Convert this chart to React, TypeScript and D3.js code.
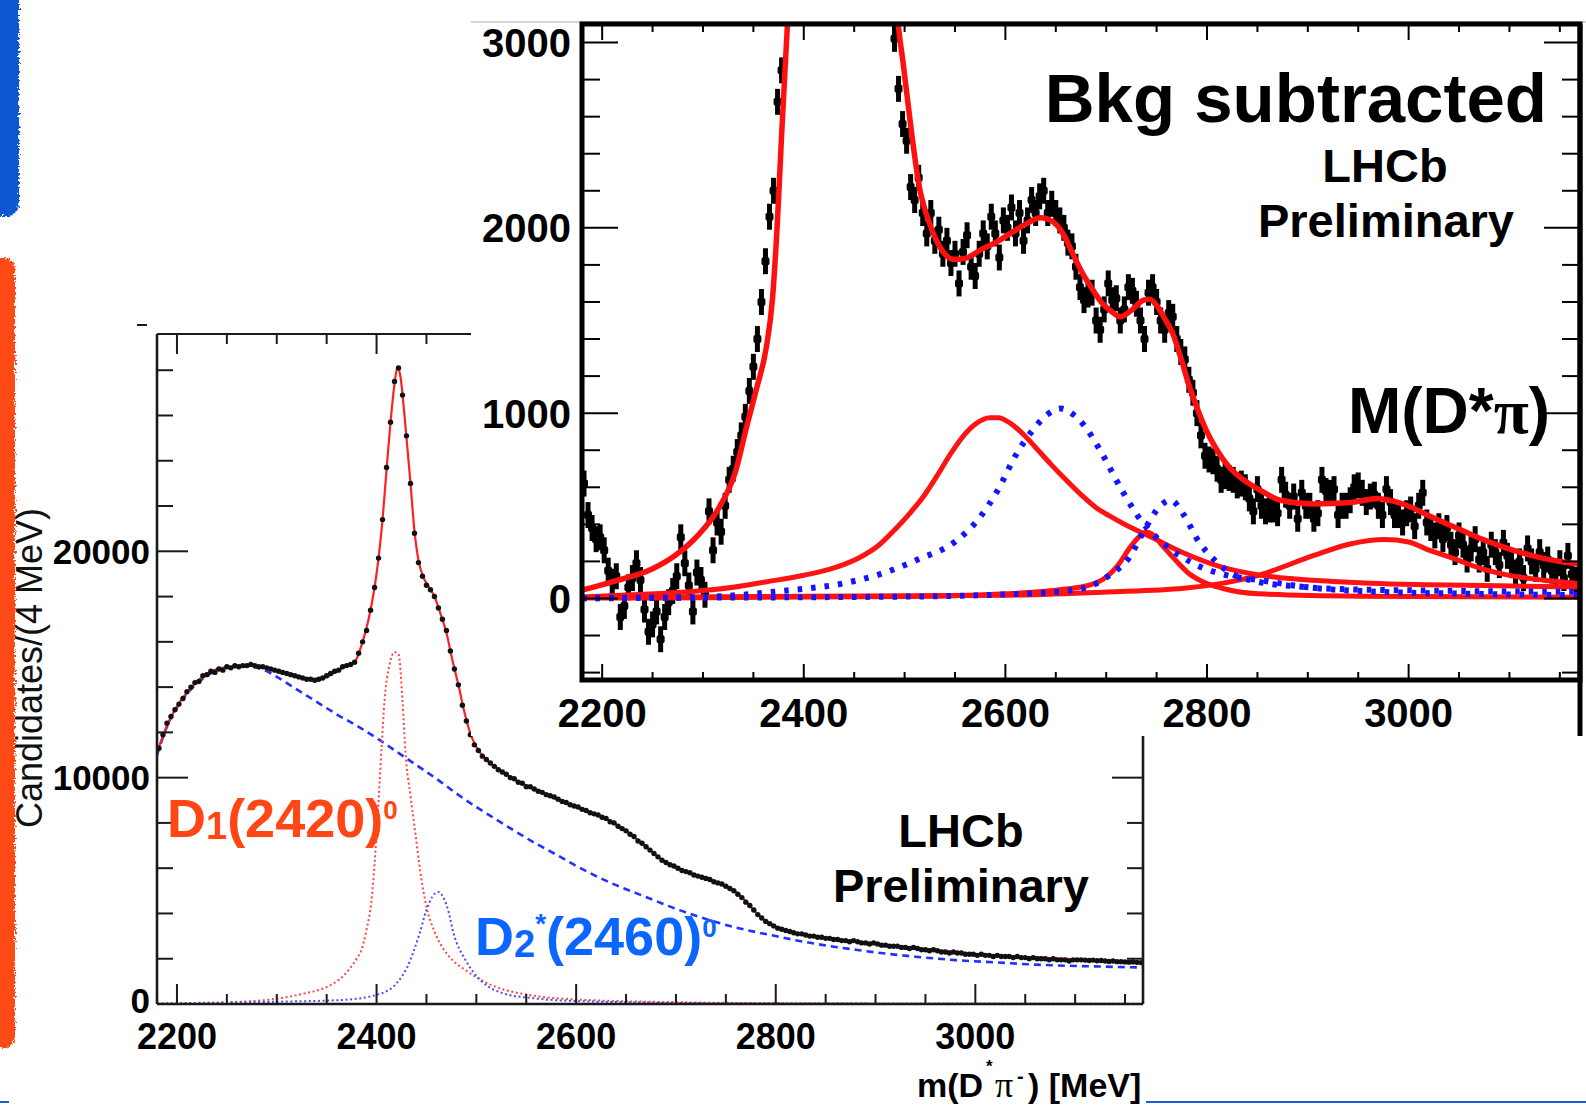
import React from "react";
import * as d3 from "d3";

type P = [number, number];

// ================= main (lower-left) plot: m(D*pi) candidates / 4 MeV =================
const mainBinStart = 2182;
const mainBinWidth = 4;
const mainCounts: number[] = [
  11300, 11900, 12400, 12700, 13000, 13250, 13500, 13800, 14000, 14200,
  14250, 14500, 14550, 14700, 14650, 14800, 14750, 14900, 14850, 14950,
  14900, 14950, 14950, 15000, 14950, 14900, 14900, 14850, 14800, 14750,
  14700, 14650, 14600, 14550, 14500, 14450, 14400, 14350, 14350, 14300,
  14350, 14400, 14500, 14600, 14700, 14750, 14900, 14950, 15000, 15100,
  15500, 16000, 16500, 17400, 18400, 19700, 21400, 23700, 25700, 27500,
  28100, 26900, 25100, 23000, 20800, 19500, 18900, 18500, 18300, 18000,
  17500, 17000, 16500, 15600, 14800, 14100, 13200, 12500, 11900, 11450,
  11200, 10950, 10800, 10650, 10500, 10350, 10250, 10150, 10000, 9950,
  9800, 9750, 9600, 9600, 9500, 9400, 9350, 9250, 9200, 9150,
  9050, 8950, 8900, 8800, 8750, 8700, 8600, 8550, 8450, 8400,
  8350, 8250, 8200, 8050, 8000, 7850, 7750, 7650, 7500, 7400,
  7200, 7100, 6950, 6800, 6650, 6500, 6350, 6250, 6150, 6100,
  6000, 5900, 5850, 5800, 5700, 5650, 5600, 5550, 5500, 5400,
  5350, 5300, 5200, 5100, 5000, 4850, 4700, 4500, 4350, 4150,
  3950, 3800, 3650, 3550, 3450, 3350, 3300, 3250, 3200, 3150,
  3100, 3100, 3050, 3000, 3000, 2950, 2950, 2900, 2900, 2850,
  2850, 2800, 2800, 2750, 2800, 2750, 2700, 2700, 2650, 2700,
  2650, 2600, 2600, 2550, 2550, 2550, 2500, 2500, 2450, 2500,
  2450, 2400, 2400, 2350, 2400, 2350, 2300, 2300, 2250, 2300,
  2250, 2250, 2200, 2200, 2200, 2150, 2200, 2150, 2150, 2100,
  2150, 2100, 2100, 2100, 2050, 2100, 2050, 2050, 2000, 2050,
  2000, 2000, 2000, 1950, 2000, 1950, 1950, 1950, 1900, 1950,
  1950, 1950, 1940, 1920, 1940, 1910, 1920, 1900, 1880, 1900,
  1870, 1870, 1860, 1850, 1860, 1840, 1830,
];

const mainFit: P[] = [
  [2180, 11100], [2190, 12300], [2200, 13150], [2210, 13750], [2220, 14250], [2230, 14600],
  [2240, 14800], [2250, 14880], [2260, 14920], [2270, 14950], [2280, 14930], [2290, 14850],
  [2300, 14720], [2310, 14600], [2320, 14480], [2330, 14380], [2340, 14340], [2350, 14450],
  [2360, 14700], [2370, 14950], [2378, 15100], [2386, 16000], [2392, 17000], [2398, 18400],
  [2402, 19700], [2406, 21400], [2410, 23600], [2414, 25700], [2418, 27400], [2421, 28150],
  [2424, 27700], [2428, 26000], [2434, 23000], [2438, 20900], [2442, 19600], [2447, 18850],
  [2452, 18450], [2458, 18000], [2464, 17250], [2470, 16400], [2476, 15200], [2482, 14100],
  [2488, 12900], [2494, 11950], [2500, 11350], [2510, 10800], [2520, 10450], [2530, 10150],
  [2550, 9650], [2570, 9250], [2590, 8870], [2610, 8530], [2630, 8180], [2650, 7650],
  [2670, 6950], [2690, 6250], [2710, 5850], [2730, 5550], [2750, 5200], [2760, 4950],
  [2770, 4550], [2780, 4050], [2790, 3650], [2800, 3400], [2820, 3150], [2840, 2970],
  [2860, 2870], [2880, 2770], [2900, 2670], [2920, 2570], [2940, 2480], [2960, 2380],
  [2980, 2290], [3000, 2210], [3020, 2150], [3040, 2100], [3060, 2060], [3080, 2020],
  [3100, 1970], [3120, 1930], [3140, 1880], [3168, 1830],
];

const mainBkg: P[] = [
  [2180, 11000], [2190, 12250], [2200, 13100], [2215, 13950], [2230, 14500], [2250, 14850],
  [2270, 14900], [2285, 14800], [2300, 14450], [2320, 13900], [2340, 13350], [2360, 12800],
  [2380, 12300], [2400, 11750], [2420, 11150], [2440, 10550], [2460, 9950], [2480, 9300],
  [2500, 8700], [2520, 8150], [2540, 7600], [2560, 7080], [2580, 6600], [2600, 6100],
  [2620, 5650], [2640, 5250], [2660, 4900], [2680, 4550], [2700, 4200], [2720, 3900],
  [2740, 3620], [2760, 3380], [2780, 3180], [2800, 3000], [2820, 2820], [2840, 2660],
  [2860, 2520], [2880, 2400], [2900, 2280], [2940, 2090], [2980, 1940], [3020, 1840],
  [3060, 1740], [3100, 1680], [3140, 1640], [3168, 1610],
];

const mainD1: P[] = [
  [2180, 30], [2250, 80], [2290, 180], [2328, 470], [2350, 750], [2366, 1210], [2380, 2000],
  [2385, 2400], [2390, 3300], [2395, 4600], [2401, 8200], [2405, 11300], [2408, 13400],
  [2413, 15000], [2418, 15550], [2422, 15450], [2426, 13400], [2429, 11100], [2434, 9200],
  [2439, 7500], [2444, 5800], [2450, 4300], [2458, 3200], [2466, 2500], [2477, 1900],
  [2489, 1500], [2505, 1050], [2519, 760], [2550, 420], [2600, 200], [2700, 80], [2800, 40],
  [3168, 10],
];

const mainD2: P[] = [
  [2180, 10], [2300, 100], [2366, 180], [2405, 470], [2420, 910], [2431, 1650], [2443, 3100],
  [2450, 4150], [2456, 4750], [2462, 4950], [2467, 4700], [2472, 4100], [2477, 3150],
  [2489, 1950], [2504, 1060], [2527, 470], [2558, 250], [2600, 130], [2700, 50], [2800, 25],
  [3168, 5],
];

const mainXTicks = [2200, 2400, 2600, 2800, 3000];
const mainYTicks = [0, 10000, 20000];

// ================= inset: background subtracted =================
const insetBinStart = 2182;
const insetBinWidth = 4;
const insetErr = 70;
const insetCounts: (number | null)[] = [
  620, 450, 380, 320, 330, 260, 150, 90, 120, -100,
  -40, 60, 110, 190, 100, -60, -180, -140, -70, -220,
  -100, -20, 40, 120, 330, 190, 70, -70, 140, 100,
  20, 470, 260, 410, 360, 500, 640, 700, 790, 880,
  980, 1120, 1250, 1400, 1600, 1820, 2060, 2200, 2680, 2850,
  null, null, null, null, null, null, null, null, null, null,
  null, null, null, null, null, null, null, null, null, null,
  null, null, null, null, null, null, null, 3020, 2750, 2560,
  2470, 2220, 2150, 2270, 2080, 1970, 2080, 1930, 1990, 1860,
  1930, 1810, 1860, 1700, 1870, 1960, 1790, 1740, 1860, 1970,
  1900, 2060, 1970, 1840, 2040, 2000, 2110, 1970, 2080, 1930,
  2040, 2150, 2080, 2170, 2200, 2080, 2130, 2080, 2040, 2000,
  1920, 1900, 1790, 1680, 1610, 1640, 1650, 1500, 1450, 1560,
  1700, 1610, 1620, 1500, 1560, 1680, 1660, 1590, 1500, 1400,
  1650, 1680, 1600, 1500, 1450, 1540, 1520, 1400, 1330, 1290,
  1180, 1110, 1000, 880, 770, 750, 740, 700, 640, 660,
  650, 640, 610, 620, 600, 540, 470, 590, 500, 470,
  480, 480, 460, 640, 560, 500, 550, 430, 570, 500,
  500, 430, 460, 640, 580, 570, 590, 450, 500, 500,
  530, 600, 610, 570, 520, 550, 560, 500, 450, 590,
  520, 450, 450, 410, 460, 480, 390, 500, 570, 410,
  380, 340, 390, 320, 380, 290, 250, 340, 290, 210,
  270, 320, 210, 250, 160, 290, 250, 180, 300, 230,
  180, 140, 200, 110, 270, 200, 160, 250, 180, 210,
  150, 140, 190, 110, 230, 130, 100,
];

const insetTotal: P[] = [
  [2180, 45], [2210, 90], [2250, 160], [2272, 230], [2295, 340], [2317, 500], [2332, 680],
  [2343, 920], [2353, 1130], [2363, 1360], [2369, 1620], [2374, 2050], [2378, 2500],
  [2384, 3120], [2390, 3800], [2486, 3800], [2492, 3200], [2499, 2870], [2507, 2510],
  [2514, 2240], [2526, 2005], [2537, 1880], [2548, 1830], [2560, 1835], [2575, 1880],
  [2590, 1920], [2605, 1970], [2620, 2020], [2635, 2055], [2648, 2030], [2658, 1960],
  [2666, 1870], [2676, 1760], [2685, 1680], [2695, 1600], [2705, 1550], [2714, 1520],
  [2725, 1555], [2737, 1610], [2743, 1615], [2751, 1575], [2758, 1510], [2766, 1430],
  [2774, 1300], [2781, 1170], [2790, 1030], [2799, 910], [2810, 800], [2821, 715],
  [2835, 645], [2851, 590], [2873, 530], [2906, 510], [2943, 518], [2969, 540], [2985, 525],
  [2999, 500], [3017, 455], [3035, 410], [3054, 365], [3072, 322], [3090, 285], [3109, 252],
  [3135, 215], [3165, 188], [3170, 185],
];

const insetBroadRed: P[] = [
  [2180, 8], [2230, 20], [2287, 36], [2330, 60], [2362, 89], [2400, 125], [2430, 165],
  [2455, 220], [2475, 290], [2490, 370], [2506, 465], [2520, 560], [2532, 660], [2545, 775],
  [2558, 875], [2570, 940], [2585, 975], [2593, 975], [2605, 945], [2618, 885], [2630, 815],
  [2645, 725], [2660, 640], [2675, 560], [2690, 490], [2705, 440], [2720, 395], [2745, 330],
  [2777, 245], [2814, 170], [2850, 128], [2888, 105], [2925, 92], [2962, 82], [3020, 74],
  [3090, 68], [3170, 62],
];

const insetBroadBlue: P[] = [
  [2180, 0], [2300, 8], [2381, 42], [2438, 80], [2475, 130], [2513, 210], [2551, 310],
  [2575, 440], [2592, 580], [2611, 780], [2626, 900], [2641, 990], [2655, 1025], [2668, 990],
  [2680, 920], [2695, 790], [2716, 580], [2736, 410], [2756, 300], [2786, 190], [2820, 125],
  [2851, 100], [2900, 60], [2962, 38], [3050, 26], [3170, 18],
];

const insetNarrowRed: P[] = [
  [2180, 2], [2500, 10], [2600, 25], [2650, 45], [2685, 75], [2700, 115], [2711, 175],
  [2725, 285], [2734, 340], [2740, 358], [2746, 345], [2755, 290], [2770, 200], [2782, 135],
  [2796, 90], [2815, 55], [2851, 25], [2950, 12], [3170, 6],
];

const insetNarrowBlue: P[] = [
  [2180, 3], [2500, 10], [2600, 22], [2660, 40], [2690, 80], [2703, 125], [2722, 215],
  [2740, 390], [2752, 490], [2764, 530], [2777, 450], [2792, 305], [2807, 210], [2821, 145],
  [2851, 90], [2890, 65], [2925, 52], [3000, 44], [3100, 38], [3170, 36],
];

const insetHighRed: P[] = [
  [2180, 5], [2600, 18], [2700, 35], [2777, 55], [2851, 125], [2906, 232], [2943, 295],
  [2976, 318], [3000, 305], [3017, 268], [3045, 215], [3072, 161], [3109, 116], [3140, 95],
  [3170, 80],
];

const insetXTicks = [2200, 2400, 2600, 2800, 3000];
const insetYTicks = [0, 1000, 2000, 3000];

const SANS = "'Liberation Sans', Arial, Helvetica, sans-serif";
const SERIF = "'Liberation Serif', 'DejaVu Serif', serif";

export default function App() {
  // main plot scales
  const xM = d3.scaleLinear().domain([2180, 3168]).range([157, 1143]);
  const yM = d3.scaleLinear().domain([0, 29600]).range([1004, 334]);
  // inset scales
  const xI = d3.scaleLinear().domain([2180, 3170]).range([582, 1580]);
  const yI = d3.scaleLinear().domain([-440, 3100]).range([680, 24]);

  const lineM = d3.line<P>().x((d) => xM(d[0])).y((d) => yM(d[1])).curve(d3.curveMonotoneX);
  const lineI = d3.line<P>().x((d) => xI(d[0])).y((d) => yI(d[1])).curve(d3.curveMonotoneX);

  const mX0 = xM.range()[0], mX1 = xM.range()[1];
  const mY0 = yM.range()[0], mY1 = yM.range()[1];
  const iX0 = xI.range()[0], iX1 = xI.range()[1];
  const iY0 = yI.range()[0], iY1 = yI.range()[1];

  const mainYMinor = d3.range(2000, 29600, 2000).filter((v) => !mainYTicks.includes(v));
  const mainXMinor = d3.range(2200, 3168, 50).filter((v) => !mainXTicks.includes(v));
  const insetYMinor = d3.range(-400, 3100, 200).filter((v) => !insetYTicks.includes(v));
  const insetXMinor = d3.range(2200, 3170, 50).filter((v) => !insetXTicks.includes(v));

  const mainPts = mainCounts.map((c, i) => [mainBinStart + i * mainBinWidth, c] as P);
  const insetPts = insetCounts
    .map((c, i) => [insetBinStart + i * insetBinWidth, c] as [number, number | null])
    .filter((d) => d[1] !== null) as P[];

  const tickStroke = "#1a1a1a";

  return (
    <svg
      width={1586}
      height={1107}
      viewBox="0 0 1586 1107"
      style={{ position: "absolute", left: 0, top: 0, background: "#fff" }}
    >
      <defs>
        <clipPath id="clipMain">
          <rect x={mX0} y={mY1} width={mX1 - mX0} height={mY0 - mY1} />
        </clipPath>
        <clipPath id="clipInset">
          <rect x={iX0} y={iY1} width={iX1 - iX0} height={iY0 - iY1} />
        </clipPath>
        <filter id="rough" x="-50%" y="-5%" width="200%" height="110%">
          <feTurbulence type="fractalNoise" baseFrequency="0.45" numOctaves="2" seed="4" result="noise" />
          <feDisplacementMap in="SourceGraphic" in2="noise" scale="7" xChannelSelector="R" yChannelSelector="G" />
        </filter>
      </defs>

      {/* slide decorations */}
      <rect x={-12} y={-12} width={31} height={228} rx={12} fill="#0a58d2" filter="url(#rough)" />
      <rect x={-12} y={258} width={27} height={790} rx={12} fill="#ff4a14" filter="url(#rough)" />
      <line x1={0} x2={9} y1={1102} y2={1102} stroke="#1d5fd0" strokeWidth={2} />
      <line x1={1146} x2={1586} y1={1102} y2={1102} stroke="#1d5fd0" strokeWidth={2} />

      {/* ================= MAIN PLOT ================= */}
      <g clipPath="url(#clipMain)">
        <path d={lineM(mainBkg) || ""} fill="none" stroke="#2430ff" strokeWidth={2.6} strokeDasharray="7 5" />
        <path d={lineM(mainD1) || ""} fill="none" stroke="#ff4545" strokeWidth={2} strokeDasharray="2 2.6" />
        <path d={lineM(mainD2) || ""} fill="none" stroke="#4a4aff" strokeWidth={2} strokeDasharray="2 2.6" />
        <path d={lineM(mainFit) || ""} fill="none" stroke="#ff2020" strokeWidth={2.2} />
        {mainPts.map((d, i) => (
          <circle key={i} cx={xM(d[0])} cy={yM(d[1])} r={2.7} fill="#111" />
        ))}
      </g>

      {/* main frame */}
      <line x1={mX0} x2={mX0} y1={mY1} y2={mY0} stroke={tickStroke} strokeWidth={2.6} />
      <line x1={mX0} x2={mX1} y1={mY0} y2={mY0} stroke={tickStroke} strokeWidth={2.6} />
      <line x1={mX0} x2={mX1} y1={mY1} y2={mY1} stroke={tickStroke} strokeWidth={2.2} />
      <line x1={mX1} x2={mX1} y1={mY1} y2={mY0} stroke={tickStroke} strokeWidth={2.6} />
      <line x1={137} x2={147} y1={325} y2={325} stroke={tickStroke} strokeWidth={2} />

      {/* main y ticks */}
      {mainYTicks.map((v) => (
        <g key={"my" + v}>
          <line x1={mX0} x2={mX0 + 31} y1={yM(v)} y2={yM(v)} stroke={tickStroke} strokeWidth={2} />
          <line x1={mX1} x2={mX1 - 31} y1={yM(v)} y2={yM(v)} stroke={tickStroke} strokeWidth={2} />
        </g>
      ))}
      {mainYMinor.map((v) => (
        <g key={"mym" + v}>
          <line x1={mX0} x2={mX0 + 16} y1={yM(v)} y2={yM(v)} stroke={tickStroke} strokeWidth={2} />
          <line x1={mX1} x2={mX1 - 16} y1={yM(v)} y2={yM(v)} stroke={tickStroke} strokeWidth={2} />
        </g>
      ))}
      {/* main x ticks */}
      {mainXTicks.map((v) => (
        <g key={"mx" + v}>
          <line x1={xM(v)} x2={xM(v)} y1={mY0} y2={mY0 - 20} stroke={tickStroke} strokeWidth={2} />
          <line x1={xM(v)} x2={xM(v)} y1={mY1} y2={mY1 + 20} stroke={tickStroke} strokeWidth={2} />
        </g>
      ))}
      {mainXMinor.map((v) => (
        <g key={"mxm" + v}>
          <line x1={xM(v)} x2={xM(v)} y1={mY0} y2={mY0 - 10} stroke={tickStroke} strokeWidth={2} />
          <line x1={xM(v)} x2={xM(v)} y1={mY1} y2={mY1 + 10} stroke={tickStroke} strokeWidth={2} />
        </g>
      ))}

      {/* main tick labels */}
      {mainYTicks.map((v) => (
        <text key={"myl" + v} x={150} y={v === 0 ? yM(v) - 4 : yM(v)} dy="0.36em" textAnchor="end" fontFamily={SANS}
          fontWeight="bold" fontSize={35} fill="#000">{String(v)}</text>
      ))}
      {mainXTicks.map((v) => (
        <text key={"mxl" + v} x={xM(v)} y={1049} textAnchor="middle" fontFamily={SANS}
          fontWeight="bold" fontSize={36} fill="#000">{String(v)}</text>
      ))}

      {/* axis titles */}
      <text transform="translate(29,668) rotate(-90)" textAnchor="middle" dominantBaseline="central"
        fontFamily={SANS} fontSize={36} fill="#111">Candidates/(4 MeV)</text>
      <text y={1097} fontFamily={SANS} fontWeight="bold" fontSize={34} fill="#000">
        <tspan x={917}>m(D</tspan>
        <tspan x={986} y={1072} fontSize={17}>*</tspan>
        <tspan x={995} y={1097} fontFamily={SERIF} fontWeight="normal" fontSize={36}>π</tspan>
        <tspan x={1017} y={1083} fontSize={20}>-</tspan>
        <tspan x={1028} y={1097}>) [MeV]</tspan>
      </text>

      {/* main annotations */}
      <text x={167} y={837} fontFamily={SANS} fontWeight="bold" fontSize={54} fill="#ff4614">
        D<tspan fontSize={38} dy={2}>1</tspan>
        <tspan dy={-2}>(2420)</tspan>
        <tspan fontSize={26} dy={-18}>0</tspan>
      </text>
      <text x={475} y={955} fontFamily={SANS} fontWeight="bold" fontSize={54} fill="#0a66ff">
        D<tspan fontSize={38} dy={2}>2</tspan>
        <tspan fontSize={28} dy={-24}>*</tspan>
        <tspan dy={22}>(2460)</tspan>
        <tspan fontSize={26} dy={-18}>0</tspan>
      </text>
      <text x={961} y={847} textAnchor="middle" fontFamily={SANS} fontWeight="bold" fontSize={47} fill="#000">LHCb</text>
      <text x={961} y={902} textAnchor="middle" fontFamily={SANS} fontWeight="bold" fontSize={47} fill="#000">Preliminary</text>

      {/* ================= INSET ================= */}
      <rect x={471} y={22} width={1586 - 471} height={736 - 22} fill="#fff" />
      <line x1={471} x2={1586} y1={22} y2={22} stroke="#c8c8c8" strokeWidth={1.5} />

      <g clipPath="url(#clipInset)">
        {insetPts.map((d, i) => (
          <g key={i}>
            <line x1={xI(d[0])} x2={xI(d[0])} y1={yI(d[1] - insetErr)} y2={yI(d[1] + insetErr)}
              stroke="#000" strokeWidth={5} />
            <rect x={xI(d[0]) - 4} y={yI(d[1]) - 4} width={8} height={8} rx={2} fill="#000" />
          </g>
        ))}
        <path d={lineI(insetBroadRed) || ""} fill="none" stroke="#ff1212" strokeWidth={5} />
        <path d={lineI(insetNarrowRed) || ""} fill="none" stroke="#ff1212" strokeWidth={5} />
        <path d={lineI(insetHighRed) || ""} fill="none" stroke="#ff1212" strokeWidth={5} />
        <path d={lineI(insetBroadBlue) || ""} fill="none" stroke="#1414ff" strokeWidth={6} strokeDasharray="4.5 9" />
        <path d={lineI(insetNarrowBlue) || ""} fill="none" stroke="#1414ff" strokeWidth={6} strokeDasharray="4.5 9" />
        <path d={lineI(insetTotal) || ""} fill="none" stroke="#ff1010" strokeWidth={5.5} />
      </g>

      {/* inset ticks */}
      {insetYTicks.map((v) => (
        <g key={"iy" + v}>
          <line x1={iX0} x2={iX0 + 36} y1={yI(v)} y2={yI(v)} stroke="#000" strokeWidth={2} />
          <line x1={iX1} x2={iX1 - 36} y1={yI(v)} y2={yI(v)} stroke="#000" strokeWidth={2} />
        </g>
      ))}
      {insetYMinor.map((v) => (
        <g key={"iym" + v}>
          <line x1={iX0} x2={iX0 + 18} y1={yI(v)} y2={yI(v)} stroke="#000" strokeWidth={2} />
          <line x1={iX1} x2={iX1 - 18} y1={yI(v)} y2={yI(v)} stroke="#000" strokeWidth={2} />
        </g>
      ))}
      {insetXTicks.map((v) => (
        <g key={"ix" + v}>
          <line x1={xI(v)} x2={xI(v)} y1={iY0} y2={iY0 - 16} stroke="#000" strokeWidth={2} />
          <line x1={xI(v)} x2={xI(v)} y1={iY1} y2={iY1 + 16} stroke="#000" strokeWidth={2} />
        </g>
      ))}
      {insetXMinor.map((v) => (
        <g key={"ixm" + v}>
          <line x1={xI(v)} x2={xI(v)} y1={iY0} y2={iY0 - 8} stroke="#000" strokeWidth={2} />
          <line x1={xI(v)} x2={xI(v)} y1={iY1} y2={iY1 + 8} stroke="#000" strokeWidth={2} />
        </g>
      ))}

      {/* inset frame */}
      <rect x={iX0} y={iY1} width={iX1 - iX0} height={iY0 - iY1} fill="none" stroke="#000" strokeWidth={5} />
      <line x1={iX1} x2={iX1} y1={iY1} y2={736} stroke="#000" strokeWidth={5} />

      {/* inset labels */}
      {insetYTicks.map((v) => (
        <text key={"iyl" + v} x={571} y={yI(v)} dy="0.36em" textAnchor="end" fontFamily={SANS}
          fontWeight="bold" fontSize={40} fill="#000">{String(v)}</text>
      ))}
      {insetXTicks.map((v) => (
        <text key={"ixl" + v} x={xI(v)} y={727} textAnchor="middle" fontFamily={SANS}
          fontWeight="bold" fontSize={40} fill="#000">{String(v)}</text>
      ))}

      <text x={1547} y={122} textAnchor="end" fontFamily={SANS} fontWeight="bold" fontSize={69} fill="#000">Bkg subtracted</text>
      <text x={1385} y={182} textAnchor="middle" fontFamily={SANS} fontWeight="bold" fontSize={47} fill="#000">LHCb</text>
      <text x={1386} y={237} textAnchor="middle" fontFamily={SANS} fontWeight="bold" fontSize={47} fill="#000">Preliminary</text>
      <text x={1550} y={433} textAnchor="end" fontFamily={SANS} fontWeight="bold" fontSize={64} fill="#000">
        M(D*<tspan fontFamily={SERIF}>π</tspan>)
      </text>
    </svg>
  );
}
